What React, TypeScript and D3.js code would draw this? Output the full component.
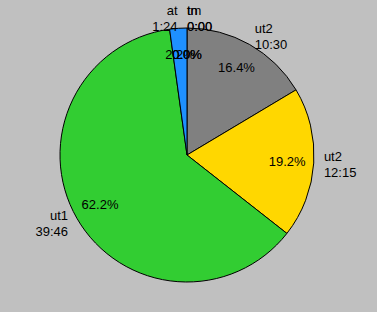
import React from "react";
import * as d3 from "d3";

const names = ["ut2", "ut2", "ut1", "at", "tm", "tn"];
const times = ["10:30", "12:15", "39:46", "1:24", "0:00", "0:00"];
const seconds = [630, 735, 2386, 84, 0, 0];
const colors = ["#808080", "#ffd700", "#32cd32", "#1e90ff", "#ff0000", "#0000ff"];

const W = 377;
const H = 312;
const cx = 187;
const cy = 155;
const r = 127;

export default function App() {
  const total = d3.sum(seconds);
  const pie = d3.pie<number>().sort(null).value((d) => d);
  const arcs = pie(seconds);
  const arc = d3.arc<d3.PieArcDatum<number>>().innerRadius(0).outerRadius(r);
  const fmt = d3.format(".1f");
  const font = "'Liberation Sans', Arial, Helvetica, sans-serif";
  const labelR = r * 1.08;
  const pctR = r * 0.79;

  return (
    <svg width={W} height={H} style={{ position: "fixed", left: 0, top: 0 }} fontFamily={font} fontSize={13}>
      <rect width={W} height={H} fill="#c0c0c0" />
      <g transform={`translate(${cx},${cy})`}>
        {arcs.map((a, i) =>
          a.value > 0 ? (
            <path key={"s" + i} d={arc(a) || ""} fill={colors[i]} stroke="#000" strokeWidth={1} />
          ) : null
        )}
        {arcs.map((a, i) => {
          const m = (a.startAngle + a.endAngle) / 2;
          const x = Math.sin(m) * pctR;
          const y = -Math.cos(m) * pctR;
          return (
            <text key={"p" + i} x={x} y={y} textAnchor="middle" dominantBaseline="central" fill="#000">
              {fmt((a.value / total) * 100) + "%"}
            </text>
          );
        })}
        {arcs.map((a, i) => {
          const m = (a.startAngle + a.endAngle) / 2;
          const s = Math.sin(m);
          const x = s * labelR;
          const y = -Math.cos(m) * labelR;
          const anchor = s >= -1e-6 ? "start" : "end";
          return (
            <text key={"l" + i} x={x} y={y} textAnchor={anchor} fill="#000">
              <tspan x={x} dy={-3}>{names[i]}</tspan>
              <tspan x={x} dy={16}>{times[i]}</tspan>
            </text>
          );
        })}
      </g>
    </svg>
  );
}
